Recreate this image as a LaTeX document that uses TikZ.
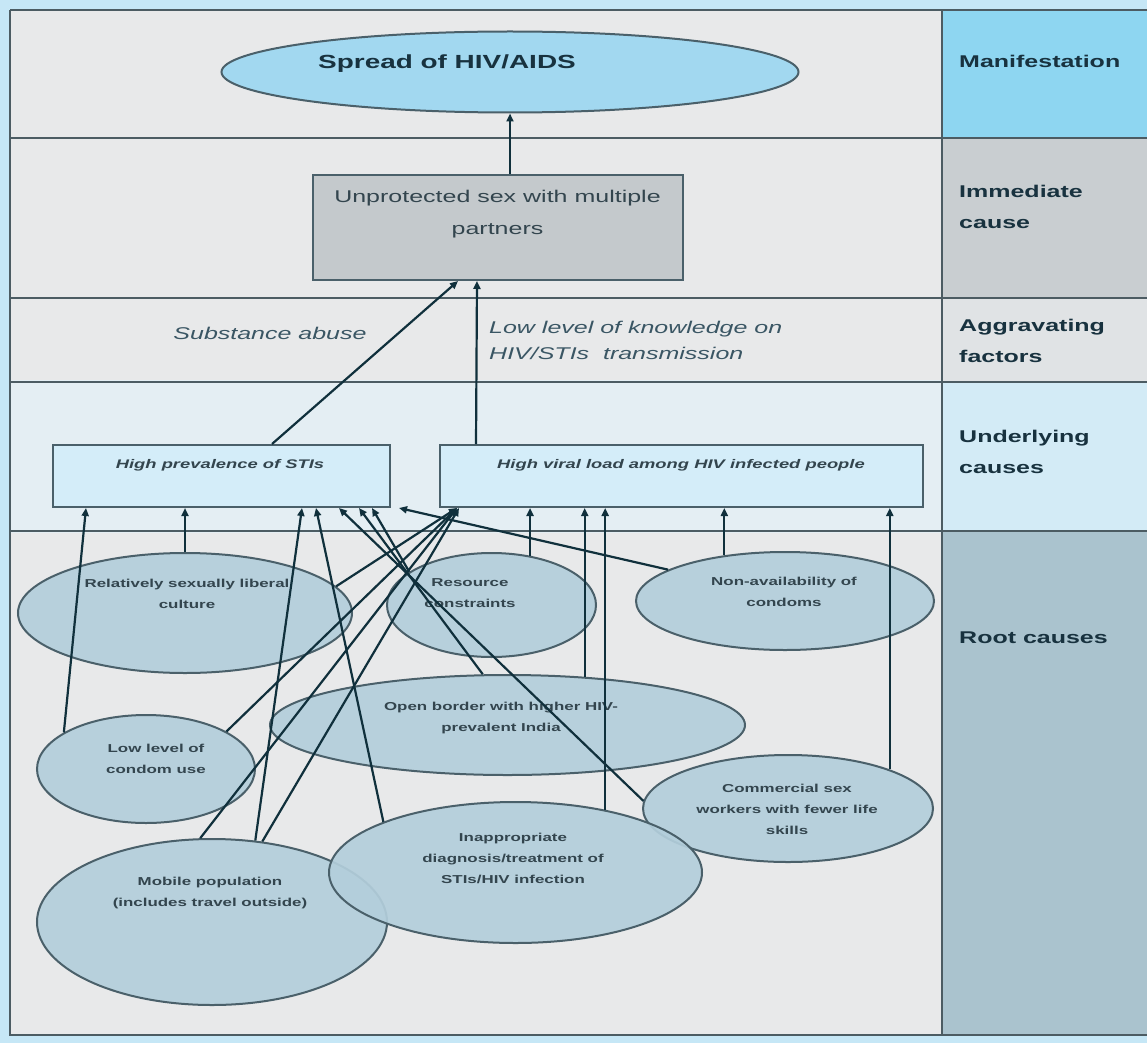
\documentclass[tikz,border=0pt]{standalone}
\usepackage{fontspec}
\setmainfont{Liberation Sans}
\newfontfamily\wfont[FakeStretch=1.47]{Liberation Sans}
\usetikzlibrary{shapes.geometric,arrows.meta}
\definecolor{outerblue}{HTML}{C6E7F6}
\definecolor{mainbg}{HTML}{E8E9EA}
\definecolor{underbg}{HTML}{E4EEF3}
\definecolor{framec}{HTML}{4C5C63}
\definecolor{manifc}{HTML}{8ED6F1}
\definecolor{immedc}{HTML}{C9CED1}
\definecolor{aggrc}{HTML}{E0E3E5}
\definecolor{underc}{HTML}{D3EBF6}
\definecolor{rootc}{HTML}{AAC3CE}
\definecolor{spreadfill}{HTML}{A2D8F0}
\definecolor{ellfill}{HTML}{B3CEDB}
\definecolor{ellline}{HTML}{4A606A}
\definecolor{boxgrey}{HTML}{C4C9CC}
\definecolor{boxblue}{HTML}{D4EDF9}
\definecolor{arrowc}{HTML}{10303C}
\definecolor{textc}{HTML}{18323F}
\definecolor{softtext}{HTML}{33454E}
\definecolor{italtext}{HTML}{3A5664}
\begin{document}
\begin{tikzpicture}[x=1pt,y=-1pt,
  rootell/.style={ellipse, draw=ellline, fill=ellfill, fill opacity=0.92, line width=2pt, inner sep=0pt},
  roottxt/.style={font=\wfont\fontsize{11.5}{21}\selectfont\bfseries, text=softtext, align=center, inner sep=0pt},
  ubox/.style={rectangle, draw=ellline, fill=boxblue, line width=2pt, inner sep=0pt},
  utxt/.style={font=\wfont\fontsize{12.5}{14}\selectfont\bfseries\itshape, text=softtext, inner sep=0pt},
  coltxt/.style={font=\wfont\fontsize{17}{31}\selectfont\bfseries, text=textc, align=left, anchor=west, inner sep=0pt},
  arr/.style={draw=arrowc, line width=2.2pt, -{Triangle[length=8pt,width=7pt]}},
  band/.style={draw=framec, line width=2.4pt}
]
\useasboundingbox (0,0) rectangle (1147,1043);
% backgrounds
\fill[outerblue] (0,0) rectangle (1147,1043);
\fill[mainbg] (10,10) rectangle (942,1035);
\fill[underbg] (10,380) rectangle (942,533);
\fill[manifc] (942,10) rectangle (1147,138);
\fill[immedc] (942,138) rectangle (1147,298);
\fill[aggrc] (942,298) rectangle (1147,382);
\fill[underc] (942,382) rectangle (1147,530);
\fill[rootc] (942,530) rectangle (1147,1035);
% frame lines
\draw[band] (10,10) -- (1147,10);
\draw[band] (10,10) -- (10,1035) -- (1147,1035);
\draw[band] (942,10) -- (942,1035);
\draw[band] (10,138) -- (1147,138);
\draw[band] (10,298) -- (1147,298);
\draw[band] (10,382) -- (1147,382);
\draw[band] (10,531) -- (1147,531);
% right column labels
\node[coltxt] (lman) at (959,61) {Manifestation};
\node[coltxt] (limm) at (959,207) {Immediate\\cause};
\node[coltxt] (lagg) at (959,341) {Aggravating\\factors};
\node[coltxt] (lund) at (959,452) {Underlying\\causes};
\node[coltxt] (lroot) at (959,638) {Root causes};
% top
\node[ellipse, draw=ellline, fill=spreadfill, line width=2pt, minimum width=577pt, minimum height=81pt, inner sep=0pt] (spread) at (510,72) {};
\node[font=\wfont\fontsize{19}{22}\selectfont\bfseries, text=textc, inner sep=0pt] (spreadt) at (447,64) {Spread of HIV/AIDS};
\node[rectangle, draw=ellline, fill=boxgrey, line width=2pt, minimum width=370pt, minimum height=105pt, inner sep=0pt] (imm) at (498,227.5) {};
\node[font=\wfont\fontsize{17}{32}\selectfont, text=softtext, align=center, inner sep=0pt] (immt) at (497.5,214) {Unprotected sex with multiple\\partners};
% aggravating
\node[font=\wfont\fontsize{17}{20}\selectfont\itshape, text=italtext, inner sep=0pt] (subs) at (270,333) {Substance abuse};
\node[font=\wfont\fontsize{17}{26}\selectfont\itshape, text=italtext, align=left, anchor=west, inner sep=0pt] (know) at (489,340) {Low level of knowledge on\\HIV/STIs\ \ transmission};
% underlying
\node[ubox, minimum width=337pt, minimum height=62pt] (box1) at (221.5,476) {};
\node[utxt] (box1t) at (220,465) {High prevalence of STIs};
\node[ubox, minimum width=483pt, minimum height=62pt] (box2) at (681.5,476) {};
\node[utxt] (box2t) at (681,465) {High viral load among HIV infected people};
% root ellipses
\node[rootell, minimum width=334pt, minimum height=120pt] (e1) at (185,613) {};
\node[rootell, minimum width=209pt, minimum height=104pt] (e2) at (491.5,605) {};
\node[rootell, minimum width=298pt, minimum height=98pt] (e3) at (785,601) {};
\node[rootell, minimum width=475pt, minimum height=100pt] (e4) at (507.5,725) {};
\node[rootell, minimum width=218pt, minimum height=108pt] (e5) at (146,769) {};
\node[rootell, minimum width=290pt, minimum height=107pt] (e6) at (788,808.5) {};
\node[rootell, minimum width=350pt, minimum height=166pt] (e8) at (212,922) {};
\node[rootell, minimum width=373pt, minimum height=141pt] (e7) at (515.5,872.5) {};
\node[roottxt] (t1) at (187,594) {Relatively sexually liberal\\culture};
\node[roottxt] (t2) at (470,593) {Resource\\constraints};
\node[roottxt] (t3) at (784,592) {Non-availability of\\condoms};
\node[roottxt] (t4) at (501,718) {Open border with higher HIV-\\prevalent India};
\node[roottxt] (t5) at (156,759) {Low level of\\condom use};
\node[roottxt] (t6) at (787,809) {Commercial sex\\workers with fewer life\\skills};
\node[roottxt] (t7) at (513,858) {Inappropriate\\diagnosis/treatment of\\STIs/HIV infection};
\node[roottxt] (t8) at (210,893) {Mobile population\\(includes travel outside)};
% connectors to box1
\draw[arr] (e5.156) -- ([xshift=34pt]box1.south west);
\draw[arr] (e1.north) -- (e1.north |- box1.south);
\draw[arr] (e8.62) -- ([xshift=250pt]box1.south west);
\draw[arr] (e7.159) -- ([xshift=264pt]box1.south west);
\draw[arr] (e6.177) -- ([xshift=287pt]box1.south west);
\draw[arr] (e4.116) -- ([xshift=307pt]box1.south west);
\draw[arr] (e2.158) -- ([xshift=320pt]box1.south west);
\draw[arr] (e3.165) -- ([xshift=8pt]box1.south east);
% connectors to box2
\draw[arr] (e1.10) -- ([xshift=18pt]box2.south west);
\draw[arr] (e5.25) -- ([xshift=18pt]box2.south west);
\draw[arr] (e8.98) -- ([xshift=18pt]box2.south west);
\draw[arr] (e8.58) -- ([xshift=20pt]box2.south west);
\draw[arr] (e2.52) -- (e2.52 |- box2.south);
\draw[arr] (e4.32) -- (e4.32 |- box2.south);
\draw[arr] (e7.35) -- (e7.35 |- box2.south);
\draw[arr] (e3.143) -- (e3.143 |- box2.south);
\draw[arr] (e6.21) -- (e6.21 |- box2.south);
% upper connectors
\draw[arr] ([xshift=220pt]box1.north west) -- ([xshift=-40pt]imm.south);
\draw[arr] ([xshift=37pt]box2.north west) -- ([xshift=-21pt]imm.south);
\draw[arr] (spread.south |- imm.north) -- (spread.south);
\end{tikzpicture}
\end{document}
